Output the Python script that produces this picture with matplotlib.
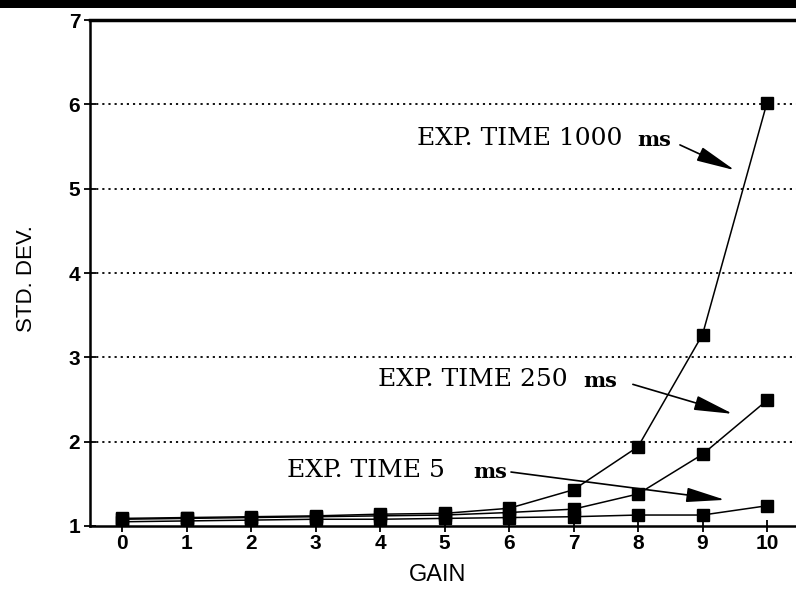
import numpy as np
import matplotlib.pyplot as plt
from matplotlib.patches import Rectangle

gain = [0, 1, 2, 3, 4, 5, 6, 7, 8, 9, 10]
sd_1000 = [1.09, 1.10, 1.11, 1.12, 1.14, 1.15, 1.21, 1.43, 1.94, 3.27, 6.02]
sd_250 = [1.08, 1.09, 1.10, 1.11, 1.12, 1.13, 1.16, 1.20, 1.38, 1.85, 2.49]
sd_5 = [1.05, 1.06, 1.07, 1.08, 1.08, 1.09, 1.10, 1.11, 1.13, 1.13, 1.24]
yticks = [1, 2, 3, 4, 5, 6, 7]

fig = plt.figure(figsize=(7.96, 5.92), dpi=100)
ax = fig.add_axes([0.113, 0.1115, 0.887, 0.8545])

# dotted grid lines
for yv in yticks[1:-1]:
    ax.axhline(yv, color='k', lw=1.3, ls=(0, (1.2, 2.2)), zorder=1)

for s in [sd_5, sd_250, sd_1000]:
    ax.plot(gain, s, 'k-', lw=1.1, marker='s', ms=9, mfc='k', mec='k', zorder=3)

ax.set_xlim(-0.5, 10.45)
ax.set_ylim(1, 7)
ax.set_xticks(gain)
ax.set_yticks(yticks)
ax.tick_params(axis='x', direction='inout', length=8, width=1.3, pad=2, labelsize=15)
ax.tick_params(axis='y', direction='inout', length=8, width=1.3, pad=3, labelsize=15)
for lab in ax.get_xticklabels() + ax.get_yticklabels():
    lab.set_fontweight('bold')
    lab.set_family('Liberation Sans')

ax.spines['right'].set_visible(False)
ax.spines['left'].set_linewidth(1.8)
ax.spines['bottom'].set_linewidth(1.8)
ax.spines['top'].set_linewidth(2.5)

ax.set_xlabel('GAIN', fontsize=17, family='Liberation Sans')
ax.xaxis.set_label_coords(0.492, -0.075)
ax.set_ylabel('STD. DEV.', fontsize=16, family='Liberation Sans')
ax.yaxis.set_label_coords(-0.075, 0.49)

arrow = dict(arrowstyle='-|>,head_length=2.4,head_width=0.45', color='k', lw=1.2,
             shrinkA=0, shrinkB=0)
# text, x, y, gap before "ms" (pt), arrow tail, arrow head
labels = [('EXP. TIME 1000', 4.57, 5.60, 11, (8.65, 5.52), (9.5, 5.22)),
          ('EXP. TIME 250', 3.97, 2.74, 11, (7.92, 2.68), (9.47, 2.33)),
          ('EXP. TIME 5', 2.56, 1.66, 20, (6.03, 1.64), (9.35, 1.31))]
for lab, tx, ty, gap, tail, head in labels:
    t = ax.text(tx, ty, lab, ha='left', va='center', fontsize=18, family='DejaVu Serif')
    ax.annotate('ms', xy=(1, 0.5), xycoords=t, xytext=(gap, -1), textcoords='offset points',
                ha='left', va='center', fontsize=15, family='DejaVu Serif',
                fontweight='bold')
    ax.annotate('', xy=head, xytext=tail, arrowprops=arrow)

# dark edge of the scanned page
fig.add_artist(Rectangle((0, 1 - 8 / 592), 1, 8 / 592, transform=fig.transFigure,
                         color='k', lw=0))

fig.savefig('out.png', dpi=100)
